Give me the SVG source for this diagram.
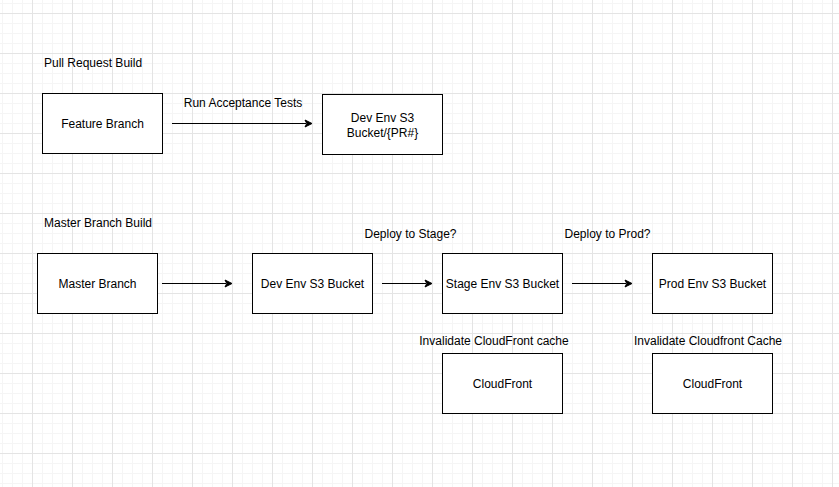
<svg xmlns="http://www.w3.org/2000/svg" width="839" height="487" viewBox="0 0 839 487">
<style>
.box{fill:#fff;stroke:#000;stroke-width:1}
text{font-family:"Liberation Sans",Arial,Helvetica,sans-serif;font-size:12px;fill:#000}
.c{text-anchor:middle}
.edge{stroke:#000;stroke-width:1;fill:none}
.head{fill:#000;stroke:#000;stroke-width:1}
</style>
<defs>
<pattern id="minor" patternUnits="userSpaceOnUse" x="2" y="3" width="10" height="10">
<rect x="0" y="0" width="10" height="1" fill="#f5f5f5"/>
<rect x="0" y="0" width="1" height="10" fill="#f5f5f5"/>
</pattern>
<pattern id="major" patternUnits="userSpaceOnUse" x="32" y="13" width="40" height="40">
<rect x="0" y="0" width="40" height="1" fill="#e4e4e4"/>
<rect x="0" y="0" width="1" height="40" fill="#e4e4e4"/>
</pattern>
</defs>
<rect width="839" height="487" fill="#fff"/>
<rect width="839" height="487" fill="url(#minor)"/>
<rect width="839" height="487" fill="url(#major)"/>

<g id="labels">
<text x="44" y="67">Pull Request Build</text>
<text x="44" y="227">Master Branch Build</text>
<text class="c" x="243" y="107">Run Acceptance Tests</text>
<text class="c" x="410.5" y="237.5">Deploy to Stage?</text>
<text class="c" x="607.5" y="237.5">Deploy to Prod?</text>
<text class="c" x="494" y="345">Invalidate CloudFront cache</text>
<text class="c" x="708" y="345">Invalidate Cloudfront Cache</text>
</g>

<g id="connectors">
<line class="edge" x1="172" y1="123.5" x2="306" y2="123.5"/>
<path class="head" d="M312,123.5 L305,120 L306.75,123.5 L305,127 Z"/>
<line class="edge" x1="162" y1="283.5" x2="226" y2="283.5"/>
<path class="head" d="M232,283.5 L225,280 L226.75,283.5 L225,287 Z"/>
<line class="edge" x1="382" y1="283.5" x2="426" y2="283.5"/>
<path class="head" d="M432,283.5 L425,280 L426.75,283.5 L425,287 Z"/>
<line class="edge" x1="572" y1="283.5" x2="626" y2="283.5"/>
<path class="head" d="M632,283.5 L625,280 L626.75,283.5 L625,287 Z"/>
</g>

<g id="feature-branch">
<rect class="box" x="42.5" y="93.5" width="120" height="60"/>
<text class="c" x="102.5" y="128">Feature Branch</text>
</g>
<g id="dev-env-pr">
<rect class="box" x="322.5" y="94.5" width="120" height="60"/>
<text class="c" x="382.5" y="121.5">Dev Env S3</text>
<text class="c" x="382.5" y="136.5">Bucket/{PR#}</text>
</g>
<g id="master-branch">
<rect class="box" x="37.5" y="253.5" width="120" height="60"/>
<text class="c" x="97.5" y="288">Master Branch</text>
</g>
<g id="dev-env">
<rect class="box" x="252.5" y="253.5" width="120" height="60"/>
<text class="c" x="312.5" y="288">Dev Env S3 Bucket</text>
</g>
<g id="stage-env">
<rect class="box" x="442.5" y="253.5" width="120" height="60"/>
<text class="c" x="502.5" y="288">Stage Env S3 Bucket</text>
</g>
<g id="prod-env">
<rect class="box" x="652.5" y="253.5" width="120" height="60"/>
<text class="c" x="712.5" y="288">Prod Env S3 Bucket</text>
</g>
<g id="cloudfront-stage">
<rect class="box" x="442.5" y="353.5" width="120" height="60"/>
<text class="c" x="502.5" y="388">CloudFront</text>
</g>
<g id="cloudfront-prod">
<rect class="box" x="652.5" y="353.5" width="120" height="60"/>
<text class="c" x="712.5" y="388">CloudFront</text>
</g>
</svg>
